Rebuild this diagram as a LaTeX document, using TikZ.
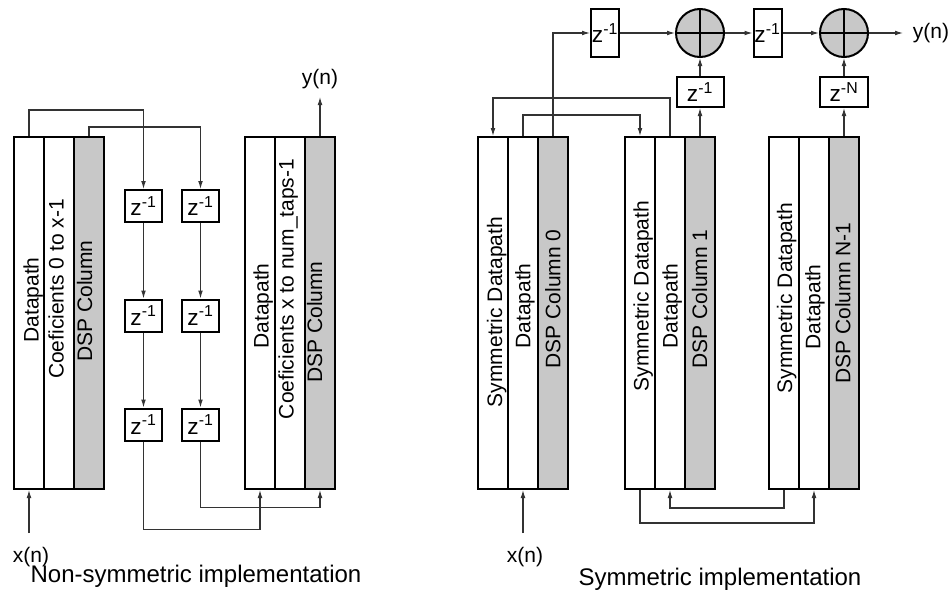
\documentclass[tikz,border=0pt]{standalone}
\usepackage{fontspec}
\setmainfont{Liberation Sans}
\usepackage{tikz}
\usetikzlibrary{positioning,arrows.meta}
\definecolor{colgray}{HTML}{C8C8C8}
\definecolor{wirecol}{HTML}{333333}

\begin{document}
\begin{tikzpicture}[x=0.75pt, y=-0.75pt,
  col/.style={draw, line width=1.5pt, minimum width=22.5pt, minimum height=264pt, inner sep=0pt},
  dspcol/.style={col, fill=colgray},
  coltext/.style={rotate=90, anchor=base, inner sep=0pt, font=\fontsize{15.75}{18}\selectfont},
  zbox/.style={draw, line width=1.5pt, fill=white, minimum width=27.75pt, minimum height=24pt, inner sep=0pt, font=\fontsize{17}{19}\selectfont},
  adder/.style={circle, draw, line width=1.5pt, fill=colgray, minimum size=36pt, inner sep=0pt},
  wire/.style={draw=wirecol, line width=0.8pt},
  arr/.style={wire, -{Latex[length=6pt,width=3.6pt]}},
  lbl/.style={inner sep=1pt, font=\fontsize{15.75}{18}\selectfont},
  captext/.style={inner sep=0pt, font=\fontsize{18}{21}\selectfont}]
\fill[white] (0,0) rectangle (951,596);
\useasboundingbox (0,0) rectangle (951,596);

\node[col] (a1) at (29,313) {};
\node[col] (a2) at (59,313) {};
\node[dspcol] (a3) at (89,313) {};
\node[coltext] (ta1) at (38.6,300) {Datapath};
\node[coltext] (ta2) at (63.6,289) {Coeficients 0 to x-1};
\node[coltext] (ta3) at (92,301) {DSP Column};

\node[col] (b1) at (260,313) {};
\node[col] (b2) at (290,313) {};
\node[dspcol] (b3) at (320,313) {};
\node[coltext] (tb1) at (268.6,306) {Datapath};
\node[coltext] (tb2) at (293.6,289) {Coeficients x to num\_taps-1};
\node[coltext] (tb3) at (322,322) {DSP Column};

\node[zbox] (z11) at (143.5,206) {z\textsuperscript{-1}};
\node[zbox] (z12) at (143.5,315.5) {z\textsuperscript{-1}};
\node[zbox] (z13) at (143.5,424.5) {z\textsuperscript{-1}};
\node[zbox] (z21) at (200.5,206) {z\textsuperscript{-1}};
\node[zbox] (z22) at (200.5,315.5) {z\textsuperscript{-1}};
\node[zbox] (z23) at (200.5,424.5) {z\textsuperscript{-1}};

\draw[arr] (a1.north) -- ++(0,-26) -| (z11.north);
\draw[arr] (a3.north) -- ++(0,-9) -| (z21.north);
\draw[arr] (z11) -- (z12);
\draw[arr] (z12) -- (z13);
\draw[arr] (z21) -- (z22);
\draw[arr] (z22) -- (z23);
\draw[arr] (z13.south) -- ++(0,88) -| (b1.south);
\draw[arr] (z23.south) -- ++(0,66) -| (b3.south);
\draw[arr] (b3.north) -- ++(0,-39) node[lbl, above=5pt] (yn1) {y(n)};
\draw[arr] (a1.south |- 0,533) -- (a1.south);
\node[lbl] (xn1) at (31,557) {x(n)};
\node[captext] (capl) at (196,576) {Non-symmetric implementation};

\node[col] (s0a) at (493,313) {};
\node[col] (s0b) at (523,313) {};
\node[dspcol] (s0c) at (553,313) {};
\node[coltext] (ts0a) at (502,312) {Symmetric Datapath};
\node[coltext] (ts0b) at (530.3,306) {Datapath};
\node[coltext] (ts0c) at (560.3,299) {DSP Column 0};

\node[col] (s1a) at (640,313) {};
\node[col] (s1b) at (670,313) {};
\node[dspcol] (s1c) at (700,313) {};
\node[coltext] (ts1a) at (648.6,296) {Symmetric Datapath};
\node[coltext] (ts1b) at (677.6,306) {Datapath};
\node[coltext] (ts1c) at (707,299) {DSP Column 1};

\node[col] (sNa) at (784,313) {};
\node[col] (sNb) at (814,313) {};
\node[dspcol] (sNc) at (844,313) {};
\node[coltext] (tsNa) at (792,298) {Symmetric Datapath};
\node[coltext] (tsNb) at (820.3,307) {Datapath};
\node[coltext] (tsNc) at (850.3,303) {DSP Column N-1};

\node[zbox, minimum width=21pt, minimum height=36pt] (zt1) at (605,33) {z\textsuperscript{-1}};
\node[adder] (add1) at (700,33) {};
\node[zbox, minimum width=21pt, minimum height=36pt] (zt2) at (767.5,33) {z\textsuperscript{-1}};
\node[adder] (add2) at (844,33) {};
\node[zbox, minimum width=35.25pt, minimum height=22.5pt] (zm1) at (700,92) {z\textsuperscript{-1}};
\node[zbox, minimum width=36pt, minimum height=22.5pt] (zmN) at (844,92) {z\textsuperscript{-N}};
\draw[line width=1.5pt] (add1.north) -- (add1.south) (add1.west) -- (add1.east);
\draw[line width=1.5pt] (add2.north) -- (add2.south) (add2.west) -- (add2.east);

\draw[arr] (s0c.north) |- (zt1.west);
\draw[arr] (zt1) -- (add1);
\draw[arr] (add1) -- (zt2);
\draw[arr] (zt2) -- (add2);
\draw[arr] (add2.east) -- ++(34,0) node[lbl, right=6pt] (yn2) {y(n)};
\draw[arr] (s1c.north) -- (zm1);
\draw[arr] (zm1) -- (add1);
\draw[arr] (sNc.north) -- (zmN);
\draw[arr] (zmN) -- (add2);
\draw[arr] (s1b.north) -- ++(0,-38) -| (s0a.north);
\draw[arr] (s0b.north) -- ++(0,-21) -| (s1a.north);
\draw[arr] (s1a.south) -- ++(0,33) -| (sNb.south);
\draw[arr] (sNa.south) -- ++(0,18) -| (s1b.south);
\draw[arr] (s0b.south |- 0,533) -- (s0b.south);
\node[lbl] (xn2) at (525,557) {x(n)};
\node[captext] (capr) at (720,579) {Symmetric implementation};
\end{tikzpicture}
\end{document}
